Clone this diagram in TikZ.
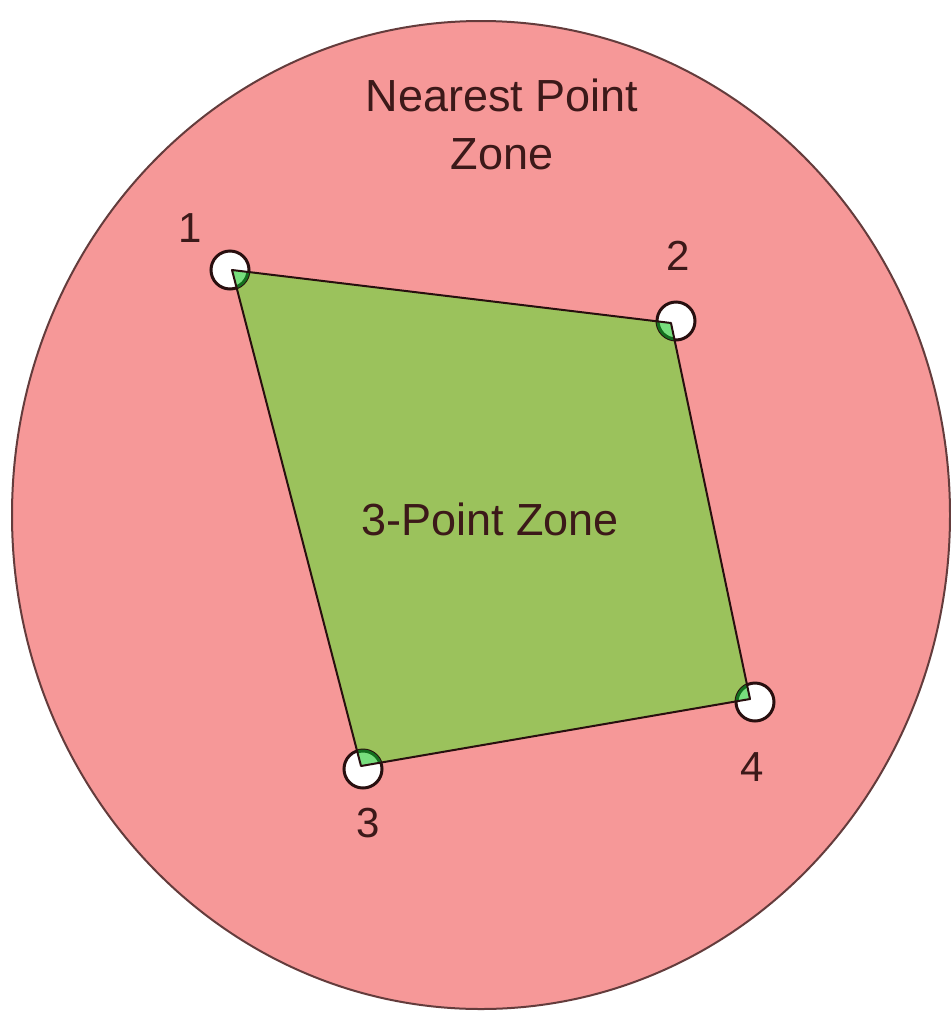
\documentclass[tikz,border=0pt]{standalone}
\usepackage{fontspec}
\setmainfont{Liberation Sans}
\begin{document}
\begin{tikzpicture}[x=1pt,y=-1pt,
  zonefill/.style={fill=zonepink,draw=zoneedge,line width=2pt},
  vtx/.style={circle,minimum size=38pt,inner sep=0pt,line width=3pt,draw=vtxedge,fill=white},
  lbl/.style={text=txt,font=\fontsize{42}{50}\selectfont},
  bigtxt/.style={text=txt,font=\fontsize{45}{58}\selectfont,align=center}]
\definecolor{zonepink}{RGB}{246,152,152}
\definecolor{zoneedge}{RGB}{100,60,60}
\definecolor{quadgreen}{RGB}{155,194,92}
\definecolor{lightgreen}{RGB}{120,222,125}
\definecolor{vtxedge}{RGB}{40,15,15}
\definecolor{darkgreen}{RGB}{20,110,30}
\definecolor{txt}{RGB}{60,25,25}
\fill[white] (0,0) rectangle (951,1013);
\useasboundingbox (0,0) rectangle (951,1013);
% outer zone
\draw[zonefill] (481,515) ellipse [x radius=469, y radius=494];
\node[bigtxt] (nz) at (502,124) {Nearest Point\\Zone};
% quadrilateral corners
\coordinate (p1) at (232,270);
\coordinate (p2) at (671,323);
\coordinate (p3) at (361,766);
\coordinate (p4) at (750,699);
\fill[quadgreen] (p1) -- (p2) -- (p4) -- (p3) -- cycle;
% vertex circles
\node[vtx] (c1) at (230,270) {};
\node[vtx] (c2) at (676,321) {};
\node[vtx] (c3) at (363,769) {};
\node[vtx] (c4) at (755,702) {};
% green overlap inside circles
\begin{scope}
  \clip (p1) -- (p2) -- (p4) -- (p3) -- cycle;
  \foreach \c in {c1,c2,c3,c4}{
    \fill[lightgreen] (\c) circle [radius=18];
    \draw[darkgreen,line width=3pt] (\c) circle [radius=18];
  }
\end{scope}
% edges
\draw[vtxedge,line width=2pt,line join=round] (p1) -- (p2) -- (p4) -- (p3) -- cycle;
\node[bigtxt] (tz) at (490,519) {3-Point Zone};
% labels
\node[lbl] (l1) at (190,228) {1};
\node[lbl] (l2) at (678,256) {2};
\node[lbl] (l3) at (368,823) {3};
\node[lbl] (l4) at (752,767) {4};
\end{tikzpicture}
\end{document}
